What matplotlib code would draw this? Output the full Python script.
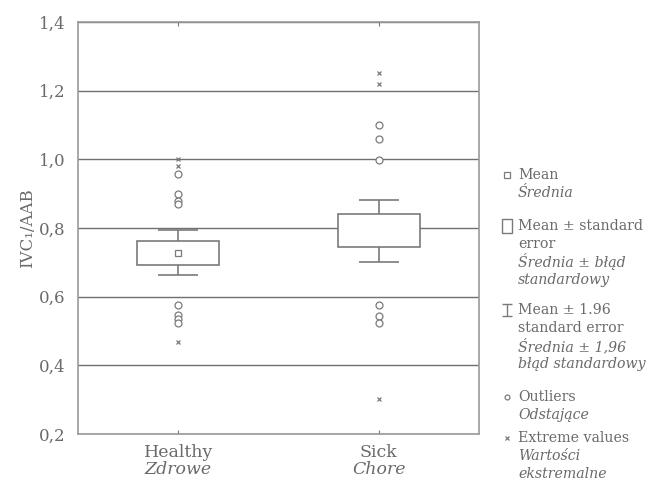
import matplotlib.pyplot as plt
from matplotlib.patches import Rectangle
from matplotlib.ticker import FuncFormatter

plt.rcParams['font.family'] = ['DejaVu Serif', 'Liberation Serif']

groups = ["Healthy", "Sick"]
groups_pl = ["Zdrowe", "Chore"]

means = [0.728, 0.792]
show_mean = [True, False]          # the Sick mean marker is not drawn in the original
se_low = [0.692, 0.744]
se_high = [0.762, 0.840]
ci_low = [0.664, 0.701]
ci_high = [0.793, 0.882]
outliers = [[0.958, 0.900, 0.880, 0.870, 0.576, 0.547, 0.534, 0.522],
            [1.099, 1.058, 0.998, 0.575, 0.544, 0.522]]
extremes = [[1.000, 0.980, 0.468],
            [1.252, 1.219, 0.301]]

grey = "#7a7a7a"
text_c = "#6a6a6a"

fig = plt.figure(figsize=(6.5, 4.83), dpi=100)
ax = fig.add_axes([0.12, 0.1014, 0.617, 0.853])

box_w = 0.41
cap_w = 0.2
for i in range(len(groups)):
    ax.vlines(i, ci_low[i], ci_high[i], color=grey, lw=1.2, zorder=2)
    ax.hlines([ci_low[i], ci_high[i]], i - cap_w / 2, i + cap_w / 2, color=grey, lw=1.2, zorder=2)
    ax.add_patch(Rectangle((i - box_w / 2, se_low[i]), box_w, se_high[i] - se_low[i],
                           facecolor="white", edgecolor=grey, lw=1.2, zorder=3))
    if show_mean[i]:
        ax.plot(i, means[i], marker="s", ms=5, mfc="white", mec=grey, mew=0.9, zorder=4)
    ax.plot([i] * len(outliers[i]), outliers[i], "o", ms=5, mfc="white", mec=grey, mew=0.9, zorder=4)
    ax.plot([i] * len(extremes[i]), extremes[i], "x", ms=3.5, color=grey, mew=0.9, zorder=4)

ax.set_xlim(-0.5, 1.5)
ax.set_ylim(0.2, 1.4)
ax.set_yticks([0.2, 0.4, 0.6, 0.8, 1.0, 1.2, 1.4])
ax.yaxis.set_major_formatter(FuncFormatter(lambda v, p: f"{v:.1f}".replace(".", ",")))
ax.grid(axis="y", color="#707070", lw=1)
ax.set_axisbelow(True)
for s in ax.spines.values():
    s.set_color("#9a9a9a")
    s.set_linewidth(1.2)

ax.set_xticks(range(len(groups)))
ax.set_xticklabels(groups)
ax.tick_params(axis="x", direction="in", length=3, top=True, color=grey,
               labelsize=12.5, labelcolor=text_c, pad=7)
ax.tick_params(axis="y", length=0, labelsize=12, labelcolor=text_c, pad=9)
for i, lab in enumerate(groups_pl):
    ax.text(i, -0.066, lab, transform=ax.get_xaxis_transform(), ha="center", va="top",
            fontsize=12.5, style="italic", color=text_c)

ax.set_ylabel("IVC\u2081/AAB", fontsize=12, color=text_c, labelpad=2)

# legend drawn in pixel coordinates of the figure
lax = fig.add_axes([0, 0, 1, 1], zorder=-1)
lax.set_xlim(0, 650)
lax.set_ylim(483, 0)
lax.axis("off")

tx = 518
fs = 10.2
entries = [
    (175, ["Mean", "*Średnia"]),
    (226, ["Mean ± standard", "error", "*Średnia ± błąd", "*standardowy"]),
    (310, ["Mean ± 1.96", "standard error", "*Średnia ± 1,96", "*błąd standardowy"]),
    (397, ["Outliers", "*Odstające"]),
    (438, ["Extreme values", "*Wartości", "*ekstremalne"]),
]
for y0, lines in entries:
    for k, ln in enumerate(lines):
        it = ln.startswith("*")
        lax.text(tx, y0 + 18 * k, ln.lstrip("*"), fontsize=fs, color=text_c,
                 style="italic" if it else "normal", va="center", ha="left")

lax.plot(507, 175, marker="s", ms=4, mfc="white", mec=grey, mew=0.9)
lax.add_patch(Rectangle((502, 219), 10, 14, facecolor="white", edgecolor=grey, lw=1))
lax.vlines(507, 304, 316, color=grey, lw=1)
lax.hlines([304, 316], 502, 512, color=grey, lw=1)
lax.plot(507, 397, "o", ms=3.5, mfc="white", mec=grey, mew=0.9)
lax.plot(507, 438, "x", ms=3, color=grey, mew=0.9)

fig.savefig("out.png", dpi=100)
